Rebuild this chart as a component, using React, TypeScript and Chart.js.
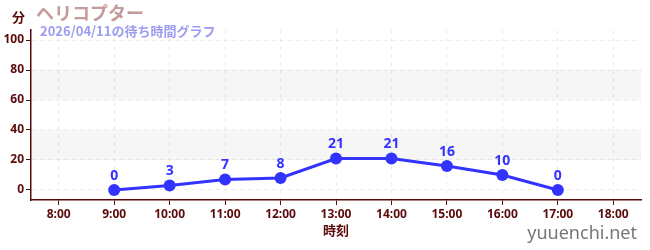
import React, { useEffect, useRef } from "react";
import { Chart, registerables } from "chart.js";

Chart.register(...registerables);

const categories = ["8:00", "9:00", "10:00", "11:00", "12:00", "13:00", "14:00", "15:00", "16:00", "17:00", "18:00"];
const waitTimes: (number | null)[] = [null, 0, 3, 7, 8, 21, 21, 16, 10, 0, null];
const yTicks = [0, 10, 20, 30, 40, 50, 60, 70, 80, 90, 100];
const bands: [number, number][] = [[20, 40], [60, 80]];
const titleText = "ヘリコプター";
const subtitleText = "2026/04/11の待ち時間グラフ";
const unitText = "分";
const xTitle = "時刻";
const watermark = "yuuenchi.net";

const AXIS = "#5a0a0a";
const BLUE = "#3333ff";
const FONT = '"Liberation Sans Narrow", "Noto Sans", sans-serif';

export default function App() {
  const ref = useRef<HTMLCanvasElement | null>(null);
  useEffect(() => {
    document.body.style.margin = "0";
    const canvas = ref.current!;
    const decor = {
      id: "decor",
      beforeDraw(chart: any) {
        const { ctx, chartArea } = chart;
        const y = chart.scales.y;
        ctx.save();
        ctx.fillStyle = "#f6f6f6";
        for (const [a, b] of bands) {
          const t = y.getPixelForValue(b);
          const bt = y.getPixelForValue(a);
          ctx.fillRect(chartArea.left, t, chartArea.right - chartArea.left, bt - t);
        }
        ctx.restore();
      },
      afterDraw(chart: any) {
        const { ctx } = chart;
        ctx.save();
        ctx.textBaseline = "middle";
        ctx.textAlign = "left";
        ctx.fillStyle = AXIS;
        ctx.font = 'bold 13px "Noto Sans CJK JP", sans-serif';
        ctx.fillText(unitText, 12, 17);
        ctx.fillStyle = "#c49a9a";
        ctx.font = 'bold 18px "Noto Sans CJK JP", sans-serif';
        ctx.fillText(titleText, 36, 13);
        ctx.fillStyle = "#9c9cf0";
        ctx.font = 'bold 13px "Noto Sans CJK JP", sans-serif';
        ctx.fillText(subtitleText, 40, 31);
        ctx.fillStyle = "#777";
        ctx.font = '18px "Noto Sans", sans-serif';
        ctx.textAlign = "right";
        ctx.fillText(watermark, 637, 234);
        // data labels
        const meta = chart.getDatasetMeta(0);
        ctx.fillStyle = BLUE;
        ctx.textAlign = "center";
        ctx.textBaseline = "alphabetic";
        ctx.font = 'bold 14px "Noto Sans", sans-serif';
        meta.data.forEach((pt: any, i: number) => {
          const v = waitTimes[i];
          if (v === null || v === undefined) return;
          ctx.fillText(String(v), pt.x, pt.y - 10);
        });
        ctx.restore();
      },
    };
    const chart = new Chart(canvas, {
      type: "line",
      data: {
        labels: categories,
        datasets: [
          {
            data: waitTimes,
            borderColor: BLUE,
            backgroundColor: BLUE,
            borderWidth: 3,
            pointRadius: 6,
            pointBackgroundColor: BLUE,
            pointBorderWidth: 0,
            spanGaps: false,
          },
        ],
      },
      options: {
        animation: false,
        responsive: false,
        layout: { padding: { top: 30, right: 9, left: 0, bottom: 0 } },
        plugins: { legend: { display: false }, tooltip: { enabled: false } },
        scales: {
          x: {
            offset: true,
            grid: {
              color: "rgba(0,0,0,0.07)",
              tickColor: AXIS,
              tickLength: 5,
              offset: false,
            },
            border: { color: AXIS, width: 1.5, dash: [4, 4] } as any,
            ticks: { color: AXIS, font: { family: FONT, size: 12, weight: "bold" }, padding: 2, maxRotation: 0 },
            title: { display: true, text: xTitle, color: AXIS, font: { family: '"Noto Sans CJK JP", sans-serif', size: 13, weight: "bold" }, padding: { top: 4, bottom: 12 } },
            afterFit(scale: any) {
              scale.height = 50;
            },
          } as any,
          y: {
            min: -6.67,
            max: 106.67,
            afterBuildTicks(scale: any) {
              scale.ticks = yTicks.map((v) => ({ value: v }));
            },
            grid: {
              color: (c: any) => (c.tick && c.tick.value % 20 === 0 ? "rgba(0,0,0,0.07)" : "rgba(0,0,0,0)"),
              tickColor: (c: any) => (c.tick && c.tick.value % 20 === 0 ? "#222" : "#e02020"),
              tickLength: 5,
            },
            border: { color: AXIS, width: 1.5, dash: [4, 4] } as any,
            ticks: {
              color: AXIS,
              font: { family: FONT, size: 12, weight: "bold" },
              padding: 2,
              callback: (v: any) => (Number(v) % 20 === 0 ? String(v) : ""),
            },
            afterFit(scale: any) {
              scale.width = 31;
            },
          } as any,
        },
      },
      plugins: [decor],
    });
    return () => chart.destroy();
  }, []);
  return <canvas ref={ref} width={650} height={250} style={{ display: "block" }} />;
}
